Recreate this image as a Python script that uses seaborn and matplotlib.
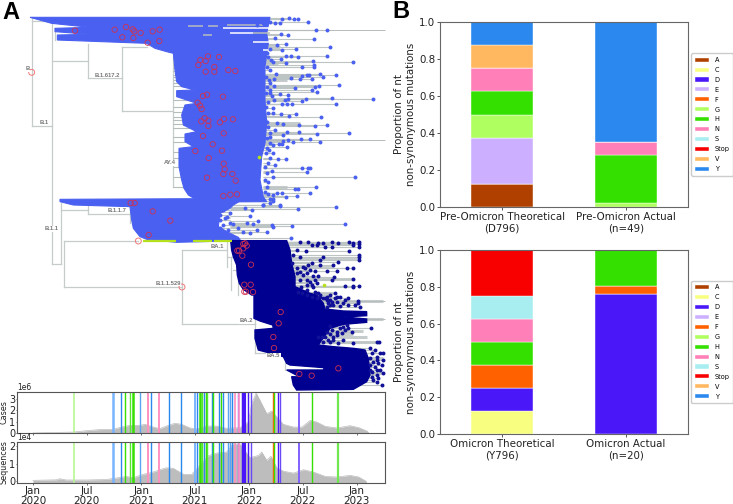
import numpy as np
import pandas as pd
import matplotlib
matplotlib.use("Agg")
import matplotlib.pyplot as plt
import matplotlib.dates as mdates
import seaborn as sns

# --- panel B
aa_labels = ["A", "C", "D", "E", "F", "G", "H", "N", "S", "Stop", "V", "Y"]
aa_colors = ["#b04000", "#f8ff80", "#4a18f8", "#ccb0ff", "#ff6000", "#b0ff60",
             "#33e000", "#ff80b8", "#a8eef0", "#f80000", "#ffb860", "#2a88ee"]
pre_groups = ["Pre-Omicron Theoretical\n(D796)", "Pre-Omicron Actual\n(n=49)"]
pre_theoretical = [0.125, 0, 0, 0.25, 0, 0.125, 0.125, 0.125, 0, 0, 0.125, 0.125]
pre_actual = [0, 0, 0, 0, 0, 0.02, 0.26, 0.07, 0, 0, 0, 0.65]
omi_groups = ["Omicron Theoretical\n(Y796)", "Omicron Actual\n(n=20)"]
omi_theoretical = [0, 0.125, 0.125, 0, 0.125, 0, 0.125, 0.125, 0.125, 0.25, 0, 0]
omi_actual = [0, 0, 0.76, 0, 0.045, 0, 0.195, 0, 0, 0, 0, 0]

# --- time panels, days since 2020-01-01
cases_day = [0, 79, 136, 181, 226, 271, 299, 328, 362, 379, 407, 429, 452, 480, 503, 531, 554, 588, 621,
             655, 701, 729, 740, 755, 768, 791, 808, 825, 847, 881, 910, 938, 960, 989, 1028, 1073, 1102, 1130, 1136]
cases_val = [0, 0.05, 0.08, 0.2, 0.3, 0.32, 0.52, 0.67, 0.67, 0.76, 0.52, 0.38, 0.61, 0.85, 0.76, 0.44, 0.35, 0.61, 0.61,
             0.41, 0.47, 0.96, 2.57, 3.5, 2.86, 1.69, 1.92, 1.4, 0.76, 0.52, 0.52, 1.1, 0.96, 0.58, 0.44, 0.64, 0.47, 0.17, 0]
seq_day = [0, 79, 90, 113, 181, 249, 282, 316, 339, 373, 407, 429, 452, 475, 509, 537, 565, 593, 621,
           655, 678, 701, 734, 763, 774, 791, 805, 825, 847, 881, 915, 949, 989, 1028, 1073, 1102, 1128]
seq_val = [0.06, 0.09, 0.15, 0.08, 0.08, 0.11, 0.19, 0.28, 0.21, 0.40, 0.53, 0.66, 0.77, 0.74, 0.40, 0.40, 0.91, 1.45, 1.60,
           1.66, 2.13, 2.09, 1.34, 1.47, 1.66, 1.19, 1.42, 0.77, 0.58, 0.47, 0.66, 0.53, 0.28, 0.25, 0.34, 0.25, 0]
event_day = [138, 272, 298, 312, 328, 337, 362, 388, 400, 425, 461, 502, 548, 556, 564, 571, 579, 585, 590, 605, 610,
             628, 637, 644, 659, 667, 672, 682, 692, 698, 707, 712, 717, 729, 737, 811, 814, 830, 837, 901, 943, 1033]
event_color = ["#b8f890", "#78b4ff", "#2a88ee", "#33e000", "#55e830", "#33e000", "#5aa4f4", "#ff90c0", "#2a88ee", "#ff90c0",
               "#2a88ee", "#2a88ee", "#78b4ff", "#2a88ee", "#33e000", "#55e830", "#2a88ee", "#33e000", "#55e830", "#2a88ee",
               "#33e000", "#2a88ee", "#33e000", "#2a88ee", "#5aa4f4", "#5aa4f4", "#2a88ee", "#ff90c0", "#8060ff", "#ff90c0",
               "#4a18f8", "#4a18f8", "#4a18f8", "#4a18f8", "#6a48f8", "#ff6000", "#33e000", "#4a18f8", "#6a48f8", "#8060ff",
               "#33e000", "#70e850"]
event_width = [1.2, 1.8, 1, 1, 1, 1.8, 1, 1.4, 1, 1.4, 1, 1, 1.4, 1, 1.8, 1, 1, 1, 1, 1, 1,
               1, 1, 1, 1, 1, 1, 1.2, 1, 1.2, 1, 1.5, 1.5, 1, 1, 1, 1, 1, 1, 1.4, 1, 1.6]

# --- tree clades, outlines in tree units
delta_x = [90, 810, 800, 805, 795, 795, 800, 795, 785, 780, 790, 800, 610, 590, 565, 552, 545, 537, 537,
           580, 555, 555, 590, 550, 545, 555, 590, 530, 530, 585, 545, 530, 525, 520, 500, 465, 440, 172, 172, 270, 165, 165, 270, 155]
delta_y = [52, 52, 100, 130, 200, 300, 370, 430, 470, 540, 590, 605, 606, 600, 585, 565, 540, 500, 445,
           440, 425, 402, 395, 375, 345, 315, 310, 290, 272, 270, 260, 245, 210, 160, 155, 145, 130, 120, 105, 103, 95, 85, 82, 70]
alpha_x = [180, 610, 725, 700, 690, 660, 655, 690, 715, 722, 530, 440, 420, 400, 395, 390, 220, 180]
alpha_y = [598, 596, 600, 615, 625, 640, 680, 700, 712, 722, 727, 718, 710, 685, 660, 620, 615, 605]
omicron_x = [692, 860, 870, 875, 885, 885, 930, 950, 970, 975, 1030, 1100, 1100, 1030, 1100, 1100, 1030, 990, 980, 965, 955,
             1000, 1060, 1095, 1105, 1110, 1100, 1060, 890, 880, 875, 900, 870, 860, 970, 973, 870, 860, 850, 775, 765, 765,
             820, 818, 780, 762, 762, 755, 730, 718, 712, 710, 700, 695]
omicron_y = [722, 722, 750, 790, 830, 860, 880, 885, 910, 927, 933, 935, 947, 951, 957, 967, 973, 985, 1000, 1020, 1035,
             1040, 1045, 1050, 1075, 1125, 1145, 1168, 1170, 1155, 1130, 1131, 1115, 1110, 1110, 1103, 1095, 1090, 1070, 1050, 1015, 990,
             985, 975, 963, 955, 885, 885, 868, 850, 825, 795, 770, 750]
ba1_mark_start = [430, 578, 643]
ba1_mark_end = [528, 635, 695]

# gaps and grey patches that break up the top of the delta clade
patch_x0 = [670, 680, 690, 760, 760, 565, 625, 610, 790]
patch_x1 = [810, 790, 760, 810, 810, 610, 655, 635, 810]
patch_y = [85, 74, 100, 98, 125, 78, 78, 105, 150]
patch_color = ["white", "#b4bcbc", "white", "#b4bcbc", "white", "#b4bcbc", "#b4bcbc", "#b4bcbc", "white"]
comb_y = [170, 178, 186, 194, 204, 214, 224, 232, 240, 250, 258, 300, 320, 335, 350, 360, 372, 385, 410, 425, 455, 475, 500, 530, 560]
grey_band_x0 = [790, 790, 790, 790, 790, 790, 860, 870, 880, 880, 890, 970, 970, 960, 960, 1000, 1000, 980, 980]
grey_band_x1 = [840, 835, 860, 870, 900, 860, 1075, 1075, 1000, 1060, 1000, 1150, 1150, 1100, 1140, 1150, 1150, 1090, 1060]
grey_band_y = [140, 190, 240, 260, 370, 560, 730, 778, 802, 836, 880, 903, 957, 1010, 1025, 1075, 1120, 993, 1003]

branch_x0 = [95, 95, 95, 155, 155, 265, 265, 365, 365, 365, 520, 155, 165, 182, 182, 265, 265, 390, 192, 192, 192, 545, 545, 545, 680, 765, 765, 855, 680, 692, 700, 715]
branch_x1 = [95, 155, 155, 155, 265, 265, 365, 365, 440, 520, 520, 182, 165, 182, 265, 265, 390, 390, 415, 192, 545, 545, 680, 765, 680, 765, 855, 855, 700, 692, 715, 715]
branch_y0 = [52, 378, 62, 65, 183, 133, 235, 140, 140, 333, 170, 792, 85, 610, 630, 615, 642, 620, 723, 723, 861, 750, 750, 973, 725, 910, 1060, 1040, 770, 770, 810, 810]
branch_y1 = [378, 378, 62, 792, 183, 235, 235, 333, 140, 333, 560, 792, 120, 792, 630, 642, 642, 670, 723, 861, 861, 973, 750, 973, 800, 1060, 1060, 1110, 770, 870, 810, 885]

upper_tip_x = [95, 117, 131, 144, 175, 60, 90, 75, 40, 20, 198, 232, 115, 93, 75, 45, 15, 191, 108, 80, 241, 95, 137, 60, 232, 124, 108, 144, 93, 68, 108, 190, 310,
               192, 192, 155, 78, 170, 178, 155, 210, 220, 258, 185, 150, 124, 72, 58, 268, 206, 195, 187, 135, 72, 60, 200, 115, 90, 115, 105, 65, 72, 167, 157, 247, 370, 259, 125, 110, 95, 70,
               137, 93, 117, 70, 213, 45, 82, 100, 148, 196, 232, 75, 110, 146, 200, 298, 100, 60, 114, 98, 152, 181, 211, 128, 95, 88, 68, 110, 57, 70, 83, 108, 55, 75, 155, 175, 180, 170, 65, 315, 70, 55, 197, 143, 135, 180, 95, 80, 70, 142, 55, 70, 60, 40, 90, 60,
               50, 55, 62, 50, 60, 48, 60, 52, 48, 60, 55, 48, 55, 50, 55, 60, 50, 60, 50, 48, 60, 45, 50, 45, 50, 45]
upper_tip_y = [27, 25, 26, 28, 37, 37, 40, 40, 38, 45, 61, 60, 75, 72, 85, 85, 85, 87, 102, 105, 110, 120, 118, 118, 138, 137, 137, 142, 148, 155, 160, 154, 155,
               165, 172, 170, 192, 195, 195, 197, 193, 200, 194, 206, 207, 205, 207, 210, 224, 228, 232, 240, 235, 228, 240, 247, 255, 252, 268, 270, 258, 270, 267, 274, 264, 268, 283, 282, 282, 282, 295,
               311, 312, 317, 308, 321, 330, 338, 341, 345, 347, 346, 360, 365, 365, 372, 370, 375, 380, 390, 392, 388, 387, 395, 395, 403, 403, 405, 410, 420, 430, 448, 447, 460, 465, 473, 473, 473, 486, 483, 500, 502, 515, 530, 538, 538, 548, 548, 548, 555, 557, 552, 568, 568, 585, 587, 580,
               130, 142, 150, 170, 180, 200, 220, 232, 250, 250, 275, 290, 310, 335, 350, 370, 385, 400, 415, 430, 445, 470, 490, 510, 530, 545]
upper_tip_shift_x = 750
upper_tip_shift_y = 30
alpha_tip_x = [240, 220, 190, 408, 295, 155, 135, 70, 90, 60, 150, 175, 90, 100, 140, 160, 60, 215, 275, 435, 220, 115, 85, 170, 200, 150, 130, 65, 272, 258, 145,
               60, 75, 70, 60, 80, 55, 50]
alpha_tip_y = [15, 2, 15, 22, 28, 30, 25, 30, 40, 45, 48, 63, 70, 72, 70, 72, 60, 75, 77, 72, 82, 85, 90, 90, 95, 100, 95, 95, 113, -8, -3,
               20, 55, 75, 85, 50, 35, 60]
alpha_tip_shift_x = 600
alpha_tip_shift_y = 600
navy_tip_x = [325, 355, 370, 397, 415, 447, 478, 460, 300, 335, 350, 478, 460, 395, 375, 478, 447, 317, 290, 478, 478, 478, 370, 360, 280, 300, 335, 325, 360, 415, 400, 442, 460, 410, 315, 330, 275, 345, 320, 340, 355, 380, 402, 395, 460, 350, 460, 478, 435, 340, 302, 320, 345, 355, 295, 405, 360, 410, 460,
              290, 300, 310, 320, 330, 300, 290, 310, 345, 335, 320, 305, 320, 335, 350, 375, 390]
navy_tip_y = [125, 128, 128, 127, 130, 125, 125, 128, 125, 135, 135, 133, 135, 140, 140, 140, 152, 152, 150, 165, 172, 180, 170, 180, 165, 172, 190, 195, 195, 185, 195, 203, 203, 212, 205, 210, 190, 212, 220, 228, 228, 212, 232, 240, 236, 250, 258, 258, 258, 262, 262, 270, 275, 280, 275, 280, 285, 290, 260,
              205, 215, 225, 240, 245, 240, 220, 200, 240, 255, 255, 280, 285, 290, 295, 295, 285]
navy_tip_shift_x = 600
navy_tip_shift_y = 600
late_tip_x = [355, 385, 290, 300, 270, 300, 310, 330, 355, 375, 390, 385, 300, 320, 340, 350, 422, 365, 310, 275, 265, 295, 310, 370, 440, 448, 325, 420, 435, 450, 458, 460, 440, 420, 435, 455, 420, 440, 460, 425, 445, 457,
              330, 345, 355, 335, 320, 300, 285, 290, 305, 300, 280, 340, 290, 305, 320, 280, 345, 340, 295, 315, 330, 290,
              425, 440, 430, 445, 425, 440, 450, 430, 440, 420]
late_tip_y = [8, 17, 5, 15, 5, 30, 30, 32, 30, 30, 35, 25, 92, 110, 95, 90, 100, 110, 125, 125, 125, 135, 135, 143, 140, 142, 145, 160, 165, 175, 175, 195, 195, 210, 215, 210, 225, 240, 235, 245, 250, 270,
              100, 105, 100, 115, 120, 118, 125, 110, 105, 140, 140, 135, 15, 22, 20, 10, 15, 25, 25, 8, 5, 35,
              175, 185, 200, 205, 230, 225, 225, 255, 262, 190]
late_tip_shift_x = 690
late_tip_shift_y = 885
long_branch_y = [91, 421, 903, 957]
long_branch_start = [800, 800, 960, 1000]
long_branch_end = 1155
lime_tip_x = [973, 778]
lime_tip_y = [854, 471]

red_x = [225, 344, 378, 398, 403, 422, 458, 479, 367, 400, 443, 478, 624, 601, 617, 657, 595, 643, 617, 643, 685, 706, 621, 609, 669, 593, 600, 605,
         614, 604, 625, 625, 660, 672, 699, 609, 671, 638, 586, 666, 626, 671, 674, 670, 697, 621, 707, 670, 691, 711, 392, 404, 458, 511, 446,
         730, 740, 735, 730, 712, 717, 727, 753, 733, 752, 733, 738, 759, 842, 836, 820, 822, 1015, 898, 935]
red_y = [92, 89, 81, 88, 94, 99, 94, 89, 112, 114, 128, 123, 169, 180, 183, 171, 195, 201, 215, 215, 210, 213, 284, 288, 290, 308, 317, 327,
         355, 364, 362, 378, 367, 357, 358, 408, 400, 433, 453, 452, 474, 491, 508, 522, 522, 533, 542, 588, 584, 583, 609, 609, 634, 662, 705,
         732, 737, 730, 745, 752, 752, 767, 794, 854, 854, 875, 875, 876, 936, 970, 1011, 1044, 1105, 1122, 1127]
node_x = [95, 415, 546]
node_y = [217, 723, 861]

clade_names = ["B", "B.1", "B.1.617.2", "AY.4", "B.1.1.7", "B.1.1", "BA.1", "B.1.1.529", "BA.2", "BA.5"]
clade_x = [82, 133, 322, 509, 351, 156, 653, 504, 738, 821]
clade_y = [207, 367, 226, 489, 631, 686, 738, 850, 962, 1067]

BLUE = "#4a60f0"
NAVY = "#000090"
GREY = "#c6cccc"
DARK = "#222222"


def stacked_panel(ax, groups, first, second):
    data = pd.DataFrame({"group": groups * len(aa_labels),
                         "aa": np.repeat(aa_labels, 2),
                         "share": np.column_stack([first, second]).ravel()})
    bottom = np.zeros(2)
    for aa, colour in zip(aa_labels, aa_colors):
        part = data[data["aa"] == aa]
        sns.barplot(data=part, x="group", y="share", order=groups, color=colour, width=0.5,
                    bottom=bottom, saturation=1, label=aa, ax=ax, edgecolor="#ffffff", linewidth=0.3)
        bottom = bottom + part["share"].values
    ax.set_ylim(0, 1)
    ax.set_xlabel("")
    ax.set_ylabel("Proportion of nt\nnon-synonymous mutations", fontsize=7.4, color=DARK)
    ax.yaxis.set_label_coords(-0.097, 0.5)
    ax.tick_params(labelsize=7.4, length=2, width=0.7, color="#555555", labelcolor=DARK, pad=1.5)
    ax.set_yticks(np.arange(0, 1.01, 0.2))
    for s in ax.spines.values():
        s.set_color("#666666")
    ax.legend(loc="center left", bbox_to_anchor=(1.014, 0.5), fontsize=4.7, labelspacing=0.6, handlelength=2.15,
              handleheight=0.6, handletextpad=0.85, borderpad=0.55, borderaxespad=0, framealpha=1)


def time_panel(ax, days, values, ylabel, ticks, scale, lims):
    start = pd.Timestamp("2020-01-01")
    frame = pd.DataFrame({"date": start + pd.to_timedelta(days, unit="D"), "value": values})
    sns.lineplot(data=frame, x="date", y="value", color="#bdbdbd", linewidth=0.5, ax=ax)
    ax.fill_between(frame["date"], frame["value"], lims[0], color="#bdbdbd", linewidth=0)
    for d, c, w in zip(event_day, event_color, event_width):
        ax.axvline(start + pd.Timedelta(days=d), color=c, linewidth=w)
    ax.set_ylim(*lims)
    ax.set_xlim(pd.Timestamp("2019-11-08"), pd.Timestamp("2023-04-06"))
    ax.set_yticks(ticks)
    ax.set_xlabel("")
    ax.set_ylabel(ylabel, fontsize=5.8, color=DARK)
    ax.yaxis.set_label_coords(-0.0225, 0.5)
    ax.tick_params(axis="x", labelsize=7.5, length=1.5, width=0.6, color="#555555", labelcolor=DARK, pad=0.6)
    ax.tick_params(axis="y", labelsize=7, length=1, width=0.6, color="#555555", labelcolor=DARK, pad=0.2)
    ax.text(0.0, 1.01, scale, transform=ax.transAxes, fontsize=5.5, va="bottom", color=DARK)
    ax.xaxis.set_major_locator(mdates.MonthLocator(bymonth=[1, 7]))
    ax.xaxis.set_major_formatter(mdates.DateFormatter("%b\n%Y"))
    for label in ax.get_xticklabels():
        label.set_linespacing(0.95)
    for s in ax.spines.values():
        s.set_color("#555555")


def draw_tree(ax):
    ax.set_xlim(0, 2199)
    ax.set_ylim(1512, 0)
    ax.axis("off")
    for x0, x1, y0, y1 in zip(branch_x0, branch_x1, branch_y0, branch_y1):
        ax.plot([x0, x1], [y0, y1], color=GREY, linewidth=0.9, solid_capstyle="projecting", zorder=1)
    ax.hlines(comb_y, 520, 570, color="#b4bcbc", linewidth=0.8, zorder=1)
    ax.hlines(grey_band_y, grey_band_x0, grey_band_x1, color=GREY, linewidth=2.2, zorder=1)

    # every tip hangs on a thin grey branch that starts inside its clade
    upper_x = np.array(upper_tip_x) + upper_tip_shift_x
    upper_y = np.array(upper_tip_y) + upper_tip_shift_y
    alpha_x_tip = np.array(alpha_tip_x) + alpha_tip_shift_x
    alpha_y_tip = np.array(alpha_tip_y) + alpha_tip_shift_y
    navy_x = np.array(navy_tip_x) + navy_tip_shift_x
    navy_y = np.array(navy_tip_y) + navy_tip_shift_y
    late_x = np.array(late_tip_x) + late_tip_shift_x
    late_y = np.array(late_tip_y) + late_tip_shift_y
    tip_line = dict(color="#bcc4c4", linewidth=0.8, zorder=2)
    ax.hlines(upper_y, 790, upper_x, **tip_line)
    ax.hlines(alpha_y_tip, 690, alpha_x_tip, **tip_line)
    ax.hlines(navy_y, 850, navy_x, **tip_line)
    ax.hlines(late_y, 950, late_x, **tip_line)
    ax.hlines(long_branch_y, long_branch_start, long_branch_end, color="#b4bcbc", linewidth=0.7, zorder=2)

    ax.fill(delta_x, delta_y, facecolor=BLUE, edgecolor=BLUE, linewidth=0.8, zorder=3)
    ax.fill(alpha_x, alpha_y, facecolor=BLUE, edgecolor=BLUE, linewidth=0.8, zorder=3)
    ax.fill(omicron_x, omicron_y, facecolor=NAVY, edgecolor=NAVY, linewidth=1.0, zorder=3)
    for x0, x1, y, c in zip(patch_x0, patch_x1, patch_y, patch_color):
        ax.plot([x0, x1], [y, y], color=c, linewidth=1.1, zorder=3.5, solid_capstyle="butt")
    ax.hlines([723] * 3, ba1_mark_start, ba1_mark_end, color="#b4e020", linewidth=1.6, zorder=4)

    blue_tips = pd.DataFrame({"x": np.r_[upper_x, alpha_x_tip], "y": np.r_[upper_y, alpha_y_tip]})
    navy_tips = pd.DataFrame({"x": np.r_[navy_x, late_x], "y": np.r_[navy_y, late_y]})
    sns.scatterplot(data=blue_tips, x="x", y="y", color=BLUE, s=8, linewidth=0, zorder=4, ax=ax)
    sns.scatterplot(data=navy_tips, x="x", y="y", color="#101098", s=8, linewidth=0, zorder=4, ax=ax)
    sns.scatterplot(x=lime_tip_x, y=lime_tip_y, color="#b4e020", s=7, linewidth=0, zorder=4, ax=ax)
    sns.scatterplot(x=red_x, y=red_y, s=15, facecolor="none", edgecolor="#d03050", linewidth=0.6, zorder=5, ax=ax)
    sns.scatterplot(x=node_x, y=node_y, s=18, facecolor="none", edgecolor="#f07878", linewidth=0.7, zorder=5, ax=ax)
    for name, x, y in zip(clade_names, clade_x, clade_y):
        ax.text(x, y, name, fontsize=4.2, fontweight="bold", family="Liberation Sans", color="#777777",
                ha="center", va="center", zorder=6, bbox=dict(facecolor="white", edgecolor="none", pad=0.4))
    ax.set_xlabel("")
    ax.set_ylabel("")


W, H = 733, 504


def px_axes(fig, left, top, right, bottom):
    return fig.add_axes([left / W, 1 - bottom / H, (right - left) / W, (bottom - top) / H])


fig = plt.figure(figsize=(7.33, 5.04), dpi=100)
tree_ax = fig.add_axes([0, 0, 1, 1])
draw_tree(tree_ax)

cases_ax = px_axes(fig, 17, 392, 385, 433)
seq_ax = px_axes(fig, 17, 442, 385, 483)
time_panel(cases_ax, cases_day, cases_val, "Cases", [0, 1, 2, 3], "1e6", (0, 3.59))
time_panel(seq_ax, seq_day, seq_val, "Sequences", [0, 1, 2], "1e4", (-0.09, 2.23))
cases_ax.tick_params(axis="x", labelbottom=False)

top_ax = px_axes(fig, 440, 22, 688, 207)
low_ax = px_axes(fig, 440, 250, 688, 434)
stacked_panel(top_ax, pre_groups, pre_theoretical, pre_actual)
stacked_panel(low_ax, omi_groups, omi_theoretical, omi_actual)

fig.text(2 / W, 1 - 19 / H, "A", fontsize=17, fontweight="bold", family="Liberation Sans")
fig.text(392 / W, 1 - 18 / H, "B", fontsize=17, fontweight="bold", family="Liberation Sans")

fig.savefig("out.png", dpi=100)
